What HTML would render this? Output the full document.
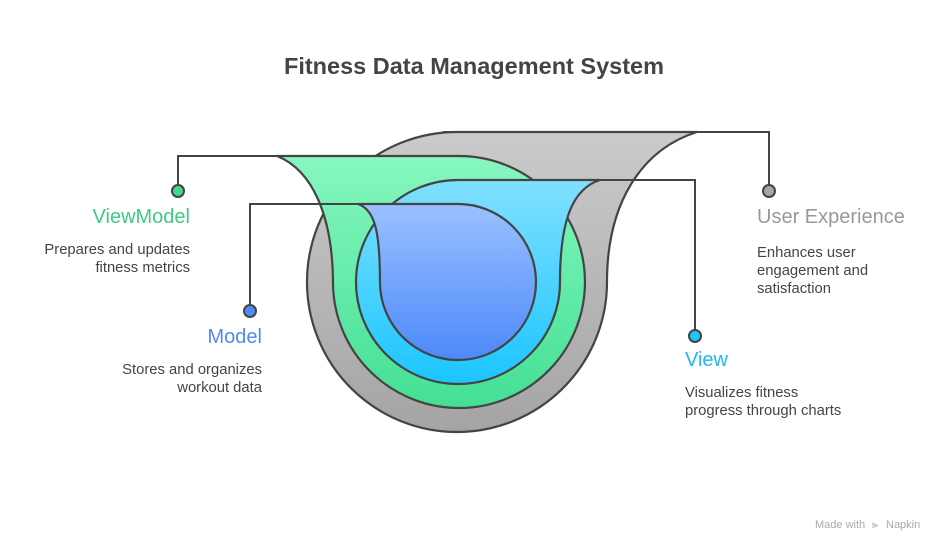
<!DOCTYPE html>
<html><head><meta charset="utf-8"><style>
html,body{margin:0;padding:0;background:#fff;}
svg{display:block;}
text{font-family:"Liberation Sans",sans-serif;}
</style></head><body>
<svg width="948" height="552" viewBox="0 0 948 552" xmlns="http://www.w3.org/2000/svg">
<defs>
<linearGradient id="g1" x1="0" y1="0" x2="0" y2="1"><stop offset="0" stop-color="#cbcbcb"/><stop offset="1" stop-color="#a4a4a4"/></linearGradient>
<linearGradient id="g2" x1="0" y1="0" x2="0" y2="1"><stop offset="0" stop-color="#86f7c0"/><stop offset="1" stop-color="#44df94"/></linearGradient>
<linearGradient id="g3" x1="0" y1="0" x2="0" y2="1"><stop offset="0" stop-color="#80e0ff"/><stop offset="1" stop-color="#1bc5ff"/></linearGradient>
<linearGradient id="g4" x1="0" y1="0" x2="0" y2="1"><stop offset="0" stop-color="#9ac1ff"/><stop offset="1" stop-color="#4d89fa"/></linearGradient>
</defs>
<text x="474" y="74" text-anchor="middle" font-size="23.5" font-weight="bold" fill="#444">Fitness Data Management System</text>

<g stroke="#444" stroke-width="2.2" stroke-linejoin="round">
<path fill="url(#g1)" d="M697,132 L457,132 A150,150 0 1 0 607,282 C607,205 640,150 697,132 Z"/>
<path fill="url(#g2)" d="M277,156 L458,156 A126,126 0 1 1 333,285 C333,215 312,170 277,156 Z"/>
<path fill="url(#g3)" d="M600,180 L458,180 A102,102 0 1 0 560,282 C560,215 575,188 600,180 Z"/>
<path fill="url(#g4)" d="M358,204 L458,204 A78,78 0 1 1 380,284 C380,235 376,210 358,204 Z"/>
</g>

<g stroke="#444" stroke-width="2" fill="none">
<path d="M443,132 H769 V185"/>
<path d="M458,156 H178 V185"/>
<path d="M458,180 H695 V330"/>
<path d="M458,204 H250 V305"/>
</g>

<g stroke="#444" stroke-width="2">
<circle cx="769" cy="191" r="6" fill="#a6a6a6"/>
<circle cx="178" cy="191" r="6" fill="#44d98f"/>
<circle cx="695" cy="336" r="6" fill="#1ec6fb"/>
<circle cx="250" cy="311" r="6" fill="#4f8bf5"/>
</g>

<text x="190" y="223" text-anchor="end" font-size="20" fill="#3ecb88">ViewModel</text>
<text x="190" y="254" text-anchor="end" font-size="14.8" fill="#444">Prepares and updates</text>
<text x="190" y="272" text-anchor="end" font-size="14.8" fill="#444">fitness metrics</text>

<text x="262" y="343" text-anchor="end" font-size="20" fill="#4f8bf0">Model</text>
<text x="262" y="374" text-anchor="end" font-size="14.8" fill="#444">Stores and organizes</text>
<text x="262" y="392" text-anchor="end" font-size="14.8" fill="#444">workout data</text>

<text x="757" y="223" font-size="20" fill="#999">User Experience</text>
<text x="757" y="257" font-size="14.8" fill="#444">Enhances user</text>
<text x="757" y="275" font-size="14.8" fill="#444">engagement and</text>
<text x="757" y="293" font-size="14.8" fill="#444">satisfaction</text>

<text x="685" y="366" font-size="20" fill="#1fb9ef">View</text>
<text x="685" y="397" font-size="14.8" fill="#444">Visualizes fitness</text>
<text x="685" y="415" font-size="14.8" fill="#444">progress through charts</text>

<text x="815" y="528" font-size="11" fill="#aaa">Made with</text>
<text x="872" y="528" font-size="11" fill="#aaa">⫸</text>
<text x="886" y="528" font-size="11" fill="#aaa">Napkin</text>
</svg>
</body></html>
